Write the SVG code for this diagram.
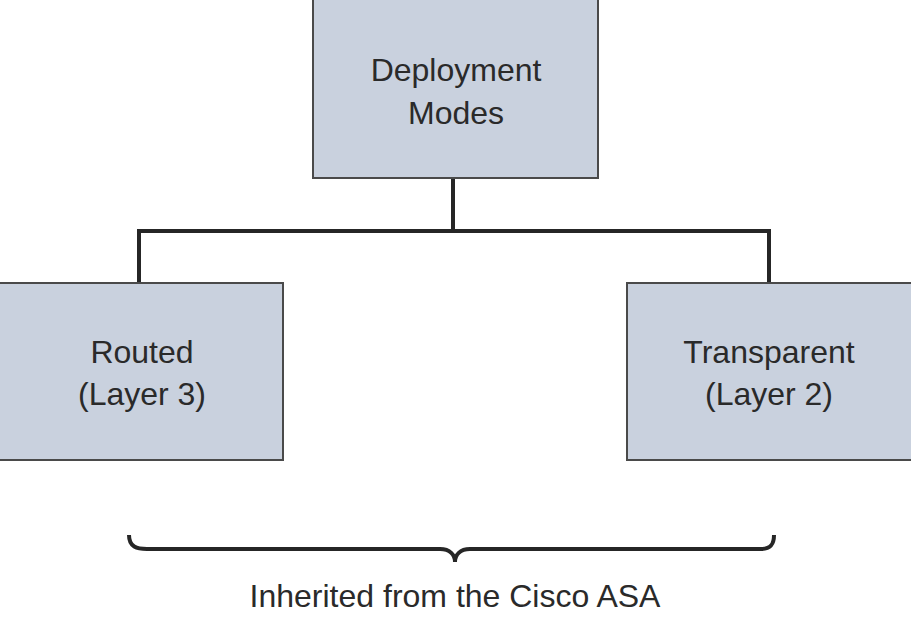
<svg xmlns="http://www.w3.org/2000/svg" width="911" height="624" viewBox="0 0 911 624">
<style>
.box{fill:#c9d1de;stroke:#4a4a4a;stroke-width:2}
.t{font-family:"Liberation Sans",Arial,sans-serif;font-size:32px;fill:#2a2a2a;text-anchor:middle}
.c{fill:none;stroke:#262626;stroke-width:4}
</style>
<rect width="911" height="624" fill="#fff"/>
<g id="connectors">
<path class="c" d="M453 178V231M139 231H769M139 229V284M769 229V284"/>
</g>
<g id="deploy"><rect class="box" x="313" y="-2" width="285" height="180"/>
<text class="t" x="456" y="81">Deployment</text><text class="t" x="456" y="124">Modes</text></g>
<g id="routed"><rect class="box" x="-2" y="283" width="285" height="177"/>
<text class="t" x="142" y="363">Routed</text><text class="t" x="142" y="405">(Layer 3)</text></g>
<g id="transparent"><rect class="box" x="627" y="283" width="286" height="177"/>
<text class="t" x="769" y="363">Transparent</text><text class="t" x="769" y="405">(Layer 2)</text></g>
<g id="brace">
<path class="c" stroke-width="3.5" d="M129 535C129 547 137 549 147 549H440C450 549 455 555 455 562C455 555 460 549 470 549H761C771 549 774 544 774 535"/>
<text class="t" x="455" y="607">Inherited from the Cisco ASA</text>
</g>
</svg>
